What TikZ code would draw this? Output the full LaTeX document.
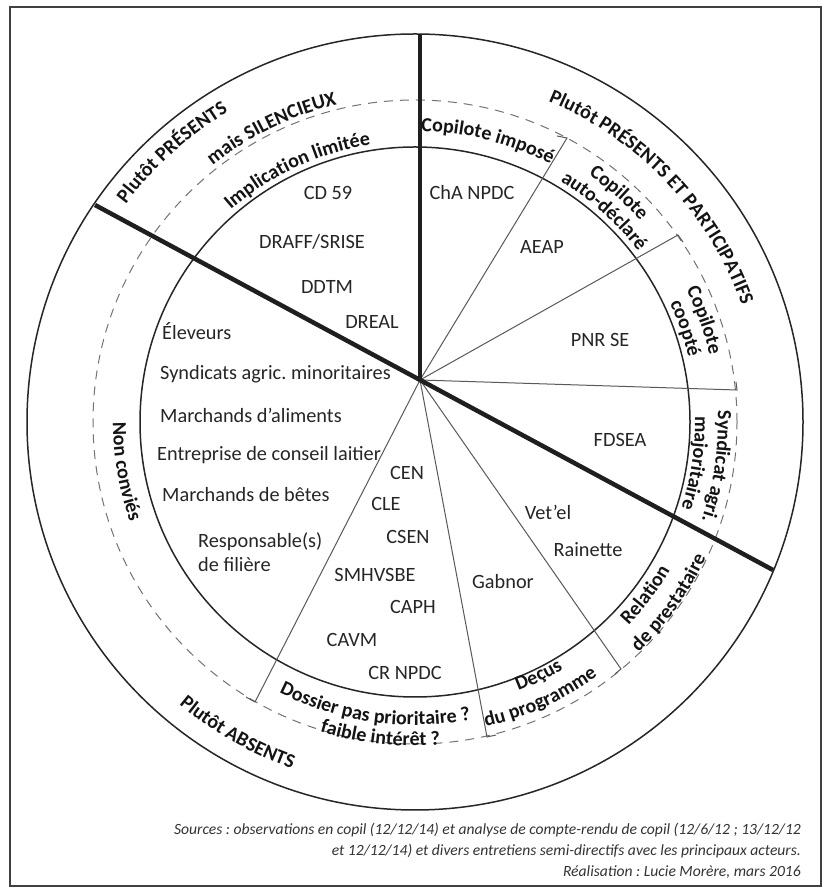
\documentclass[tikz,border=0pt]{standalone}
\usepackage{fontspec}
\setmainfont{Carlito}
\usetikzlibrary{decorations.text,calc}
\frenchspacing
\newcommand\lblfont{\fontsize{20}{24}\selectfont\bfseries\color{black!92}}
\newcommand\actfont{\fontsize{20.3}{24}\selectfont}
\newcommand\capfont{\fontsize{15.6}{19}\selectfont\itshape}
\newcommand\cwlabel[3]{\path[decorate,decoration={text along path,text align=center,text={|\lblfont|#3}}] ($(C)+({#1+50}:#2)$) arc[start angle={#1+50}, end angle={#1-50}, radius=#2];}
\newcommand\ccwlabel[3]{\path[decorate,decoration={text along path,text align=center,text={|\lblfont|#3}}] ($(C)+({#1-50}:#2)$) arc[start angle={#1-50}, end angle={#1+50}, radius=#2];}
\tikzset{
  ring/.style={line width=1.5pt, draw=black!85},
  dashring/.style={line width=1pt, draw=black!55, dash pattern=on 9pt off 7pt},
  thickline/.style={line width=4.5pt, draw=black!88},
  radial/.style={line width=1pt, draw=black!65},
  actor/.style={font=\actfont, text=black!85, anchor=base, inner sep=0pt},
  actorw/.style={actor, anchor=base west},
  caption/.style={font=\capfont, text=black!80, anchor=base east, inner sep=0pt},
  frame/.style={line width=2pt, draw=black!75}
}
\begin{document}
\begin{tikzpicture}[x=1pt,y=1pt]
\useasboundingbox (0,0) rectangle (826,891);
\fill[white] (0,0) rectangle (826,891);
\draw[frame] (10,884) rectangle (821,5);
\coordinate (C) at (415,469);
\coordinate (P) at (420,511);
% circles
\draw[ring] (C) circle[radius=388];
\draw[ring] (C) circle[radius=275];
\draw[dashring] (C) circle[radius=322];
% thin radial lines
\coordinate (L1) at (567,753); \coordinate (L1h) at (557,755);
\coordinate (L2) at (678,656); \coordinate (L2h) at (683,649);
\coordinate (L3) at (737,501); \coordinate (L3h) at (736,509);
\coordinate (D1) at (255,189); \coordinate (D1h) at (246,194);
\coordinate (D2) at (487,154); \coordinate (D2h) at (496,156);
\coordinate (D3) at (621,222); \coordinate (D3h) at (615,217);
\draw[radial] (P) -- (L1) -- (L1h);
\draw[radial] (P) -- (L2) -- (L2h);
\draw[radial] (P) -- (L3) -- (L3h);
\draw[radial] (P) -- (D1) -- (D1h);
\draw[radial] (P) -- (D2) -- (D2h);
\draw[radial] (P) -- (D3) -- (D3h);
% thick lines
\coordinate (V) at (420,857);
\coordinate (UL) at (95,686);
\coordinate (LR) at (773,321);
\draw[thickline] (P) -- (V);
\draw[thickline] (UL) -- (LR);
% curved labels
\cwlabel{132}{362}{Plutôt PRÉSENTS}
\cwlabel{116}{327}{mais SILENCIEUX}
\cwlabel{115}{281}{Implication limitée}
\cwlabel{43.5}{347}{Plutôt PRÉSENTS ET PARTICIPATIFS}
\cwlabel{75.5}{291}{Copilote imposé}
\cwlabel{48.3}{302}{Copilote}
\cwlabel{48.1}{281}{auto-déclaré}
\cwlabel{19.4}{302}{Copilote}
\cwlabel{19.1}{281}{coopté}
\cwlabel{-8.4}{303}{Syndicat agri.}
\cwlabel{-8.4}{280}{majoritaire}
\ccwlabel{-36.9}{295}{Relation}
\ccwlabel{-35.4}{321}{de prestataire}
\ccwlabel{-64}{288}{Deçus}
\ccwlabel{-65.6}{313}{du programme}
\ccwlabel{-98}{303}{Dossier pas prioritaire ?}
\ccwlabel{-96.3}{324}{faible intérêt ?}
\ccwlabel{-119.7}{368}{Plutôt ABSENTS}
\ccwlabel{-170.3}{302}{Non conviés}
% actors
\node[actor] (cd) at (328,691.5) {CD 59};
\node[actor] (draff) at (312,642.5) {DRAFF/SRISE};
\node[actor] (ddtm) at (327,597.5) {DDTM};
\node[actor] (dreal) at (372,562.5) {DREAL};
\node[actor] (cha) at (472,691.5) {ChA NPDC};
\node[actor] (aeap) at (542,637.5) {AEAP};
\node[actor] (pnr) at (600,544.5) {PNR SE};
\node[actor] (fdsea) at (620,444.5) {FDSEA};
\node[actor] (vetel) at (548,371.5) {Vet’el};
\node[actor] (rain) at (588,334.5) {Rainette};
\node[actor] (gab) at (503,302.5) {Gabnor};
\node[actor] (cen) at (407,411.5) {CEN};
\node[actor] (cle) at (386,380.5) {CLE};
\node[actor] (csen) at (408,347.5) {CSEN};
\node[actor] (smh) at (375,309.5) {SMHVSBE};
\node[actor] (caph) at (413,277.5) {CAPH};
\node[actor] (cavm) at (352,244.5) {CAVM};
\node[actor] (crn) at (405,211.5) {CR NPDC};
\node[actorw] (elev) at (162,551.5) {Éleveurs};
\node[actorw] (synd) at (160,511.5) {Syndicats agric. minoritaires};
\node[actorw] (march) at (160,468.5) {Marchands d’aliments};
\node[actorw] (entr) at (157,430.5) {Entreprise de conseil laitier};
\node[actorw] (mbet) at (162,389.5) {Marchands de bêtes};
\node[actorw] (resp) at (198,343.5) {Responsable(s)};
\node[actorw] (fil) at (198,319.5) {de filière};
% caption
\node[caption] (cap1) at (801,56) {Sources : observations en copil (12/12/14) et analyse de compte-rendu de copil (12/6/12 ; 13/12/12};
\node[caption] (cap2) at (801,35) {et 12/12/14) et divers entretiens semi-directifs avec les principaux acteurs.};
\node[caption] (cap3) at (801,14) {Réalisation : Lucie Morère, mars 2016};
\end{tikzpicture}
\end{document}
